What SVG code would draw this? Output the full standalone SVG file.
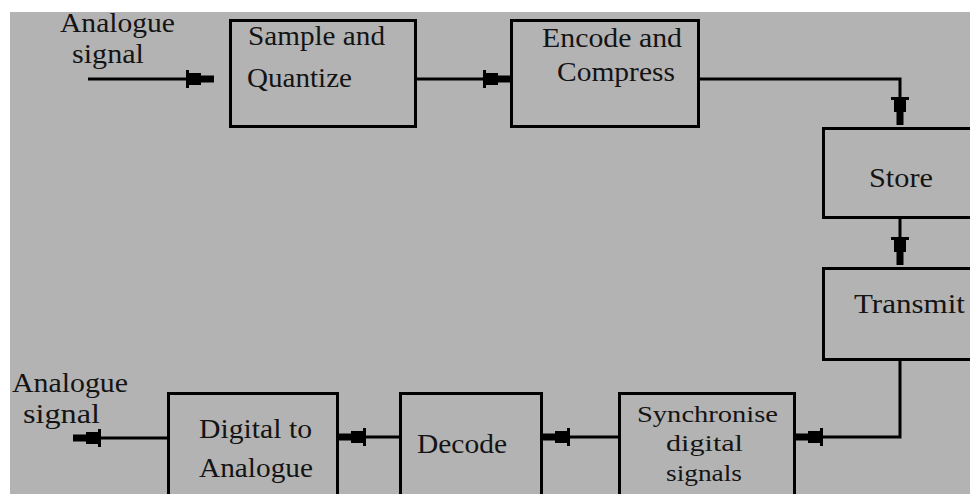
<svg xmlns="http://www.w3.org/2000/svg" width="970" height="494" viewBox="0 0 970 494">
<style>
.box{fill:none;stroke:#000;stroke-width:3}
.ln{fill:none;stroke:#000;stroke-width:3}
text{font-family:"Liberation Serif","Times New Roman",serif;font-size:27px;fill:#141414}
.sm{font-size:24px}
</style>
<defs>
<marker id="ah" markerUnits="userSpaceOnUse" orient="auto" refX="0" refY="0" markerWidth="30" markerHeight="20" viewBox="-28 -10 30 20" overflow="visible">
<path d="M1,-3.5 H-12 V-6 H-24 V-9 H-27 V9 H-24 V6 H-12 V3.5 H1 Z" fill="#000"/>
</marker>
</defs>
<rect width="970" height="494" fill="#fff"/>
<rect x="10" y="12" width="960" height="482" fill="#b3b3b3"/>
<g id="connectors">
<path class="ln" d="M88,79 H213" marker-end="url(#ah)"/>
<path class="ln" d="M417,79 H510" marker-end="url(#ah)"/>
<path class="ln" d="M699,79 H900 V124" marker-end="url(#ah)"/>
<path class="ln" d="M900,219 V264" marker-end="url(#ah)"/>
<path class="ln" d="M900,361 V437 H796" marker-end="url(#ah)"/>
<path class="ln" d="M619,437 H543" marker-end="url(#ah)"/>
<path class="ln" d="M399,437 H339" marker-end="url(#ah)"/>
<path class="ln" d="M167,438 H74" marker-end="url(#ah)"/>
</g>
<g id="label-in">
<text x="60" y="32" textLength="115" lengthAdjust="spacingAndGlyphs">Analogue</text>
<text x="72" y="63" textLength="72" lengthAdjust="spacingAndGlyphs">signal</text>
</g>
<g id="node-sample">
<rect class="box" x="230.5" y="20.5" width="185" height="106"/>
<text x="248" y="45" textLength="137" lengthAdjust="spacingAndGlyphs">Sample and</text>
<text x="247" y="87" textLength="105" lengthAdjust="spacingAndGlyphs">Quantize</text>
</g>
<g id="node-encode">
<rect class="box" x="511.5" y="20.5" width="187" height="106"/>
<text x="542" y="47" textLength="140" lengthAdjust="spacingAndGlyphs">Encode and</text>
<text x="557" y="81" textLength="118" lengthAdjust="spacingAndGlyphs">Compress</text>
</g>
<g id="node-store">
<rect class="box" x="823.5" y="128.5" width="160" height="89"/>
<text x="869" y="187" textLength="64" lengthAdjust="spacingAndGlyphs">Store</text>
</g>
<g id="node-transmit">
<rect class="box" x="823.5" y="268.5" width="160" height="91"/>
<text x="854" y="313" textLength="111" lengthAdjust="spacingAndGlyphs">Transmit</text>
</g>
<g id="node-sync">
<rect class="box" x="619.5" y="393.5" width="175" height="120"/>
<text class="sm" x="637" y="422" textLength="141" lengthAdjust="spacingAndGlyphs">Synchronise</text>
<text class="sm" x="666" y="451" textLength="77" lengthAdjust="spacingAndGlyphs">digital</text>
<text class="sm" x="666" y="481" textLength="76" lengthAdjust="spacingAndGlyphs">signals</text>
</g>
<g id="node-decode">
<rect class="box" x="400.5" y="393.5" width="141" height="120"/>
<text x="417" y="453" textLength="90" lengthAdjust="spacingAndGlyphs">Decode</text>
</g>
<g id="node-dac">
<rect class="box" x="168.5" y="393.5" width="169" height="120"/>
<text x="199" y="438" textLength="113" lengthAdjust="spacingAndGlyphs">Digital to</text>
<text x="199" y="477" textLength="114" lengthAdjust="spacingAndGlyphs">Analogue</text>
</g>
<g id="label-out">
<text x="12" y="392" textLength="116" lengthAdjust="spacingAndGlyphs">Analogue</text>
<text x="23" y="423" textLength="77" lengthAdjust="spacingAndGlyphs">signal</text>
</g>
</svg>
